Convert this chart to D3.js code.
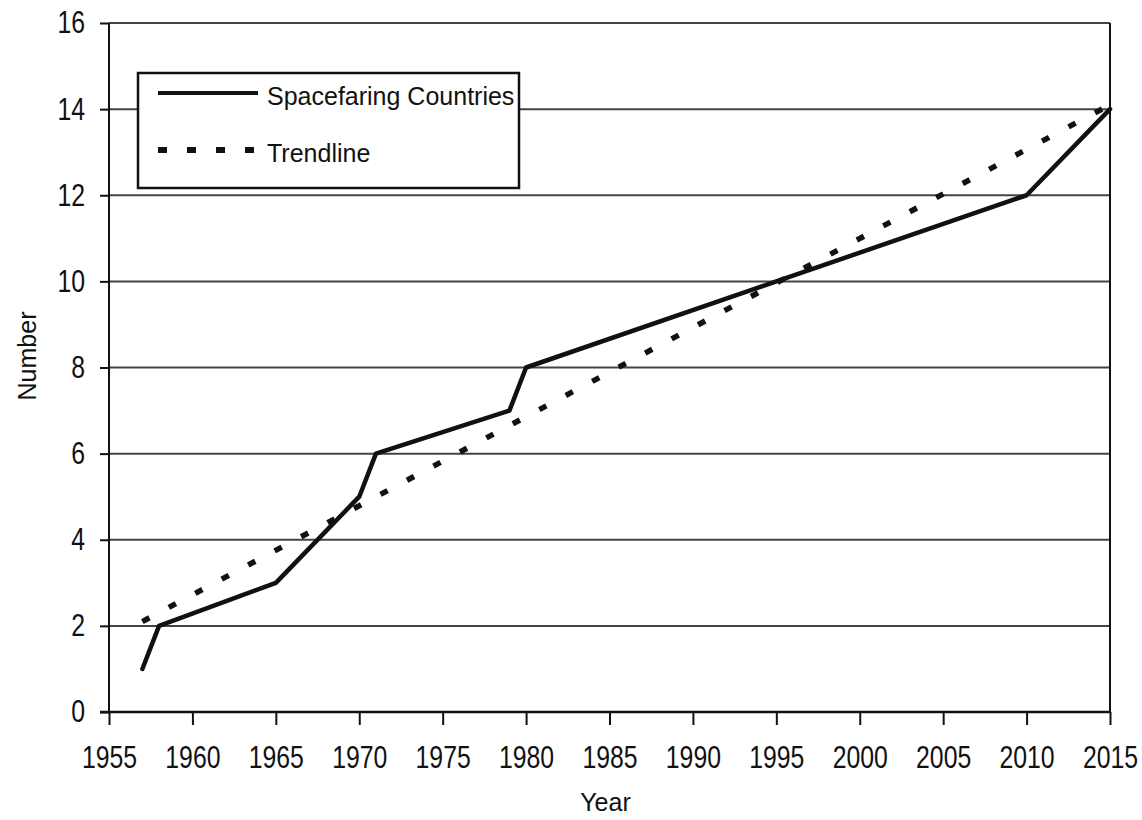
<!DOCTYPE html>
<html lang="en">
<head>
  <meta charset="UTF-8">
  <title>Spacefaring Countries</title>
  <style type="text/css">
       body{
          margin:0;
          background:#fff;
       }
       text{
          font-family: "Liberation Sans", Arial, sans-serif;
          fill:#111;
       }
  </style>
  <script src="https://d3js.org/d3.v7.min.js"></script>
</head>
<body>
   <svg></svg>
   <script>
          const margin = {top:23, left:109, bottom:108, right:32 };
          const width = 1142 - margin.left - margin.right;
          const height = 820 - margin.top - margin.bottom;

          // data
          const years = [1957, 1958, 1965, 1970, 1971, 1979, 1980, 1995, 2010, 2015];
          const countries = [1, 2, 3, 5, 6, 7, 8, 10, 12, 14];
          const trendYears = [1957, 2015];
          const trendValues = [2.1, 14.1];
          const xTicks = [1955, 1960, 1965, 1970, 1975, 1980, 1985, 1990, 1995, 2000, 2005, 2010, 2015];
          const yTicks = [0, 2, 4, 6, 8, 10, 12, 14, 16];
          const legendLabels = ["Spacefaring Countries", "Trendline"];

          const svg = d3.select("svg")
                       .attr("width",width + margin.left + margin.right)
                       .attr("height",height + margin.top + margin.bottom)
                       .append("g")
                       .attr("transform",`translate(${margin.left},${margin.top})`);

          //define Scale
          const xScale = d3.scaleLinear()
                  .domain([1955,2015])
                  .range([0,width]);

          const yScale = d3.scaleLinear()
                  .domain([0,16])
                  .range([height,0]);

          //grid lines
          svg.append("g")
             .selectAll("line")
             .data(yTicks.filter(d => d > 0))
             .enter()
             .append("line")
              .attr("x1",0)
              .attr("x2",width)
              .attr("y1",d => yScale(d))
              .attr("y2",d => yScale(d))
              .attr("stroke","#444")
              .attr("stroke-width",2);

          //right border
          svg.append("line")
             .attr("x1",width).attr("x2",width)
             .attr("y1",0).attr("y2",height)
             .attr("stroke","#111")
             .attr("stroke-width",2);

          const xAxis = d3.axisBottom()
                   .scale(xScale)
                   .tickValues(xTicks)
                   .tickFormat(d3.format("d"))
                   .tickSize(13)
                   .tickPadding(21);

          const yAxis = d3.axisLeft()
                   .scale(yScale)
                   .tickValues(yTicks)
                   .tickFormat(d3.format("d"))
                   .tickSize(9);

          //draw axes
          const xg = svg.append("g")
             .attr("transform",`translate(0,${height})`)
             .call(xAxis);

          const yg = svg.append("g")
             .call(yAxis);

          [xg, yg].forEach(g => {
             g.select(".domain").remove();
             g.selectAll(".tick line").attr("stroke","#111").attr("stroke-width",2);
             g.selectAll(".tick text")
               .attr("font-size",31)
               .attr("font-family","Liberation Sans, Arial, sans-serif")
               .attr("fill","#111")
               .attr("transform","scale(0.8,1)");
          });
          yg.selectAll(".tick text").attr("x",-30);

          svg.append("line")
             .attr("x1",-9).attr("x2",width)
             .attr("y1",height).attr("y2",height)
             .attr("stroke","#111").attr("stroke-width",2.5);
          svg.append("line")
             .attr("x1",0).attr("x2",0)
             .attr("y1",0).attr("y2",height)
             .attr("stroke","#111").attr("stroke-width",2);

          //axis titles
          svg.append("text")
             .attr("x",width/2 - 4)
             .attr("y",height + 99)
             .attr("text-anchor","middle")
             .attr("font-size",25)
             .text("Year");

          svg.append("text")
             .attr("transform",`translate(${-109 + 36},${333}) rotate(-90)`)
             .attr("text-anchor","middle")
             .attr("font-size",25)
             .text("Number");

          //lines
          const line = d3.line()
               .x(d => xScale(d[0]))
               .y(d => yScale(d[1]));

          svg.append("path")
             .datum(d3.zip(trendYears, trendValues))
             .attr("d",line)
             .attr("fill","none")
             .attr("stroke","#111")
             .attr("stroke-width",5.5)
             .attr("stroke-dasharray","8,22");

          svg.append("path")
             .datum(d3.zip(years, countries))
             .attr("d",line)
             .attr("fill","none")
             .attr("stroke","#111")
             .attr("stroke-width",4.5)
             .attr("stroke-linejoin","round")
             .attr("stroke-linecap","round");

          //legend
          const legend = svg.append("g")
               .attr("transform",`translate(${138 - margin.left},${73 - margin.top})`);

          legend.append("rect")
             .attr("width",381)
             .attr("height",115)
             .attr("fill","#fff")
             .attr("stroke","#111")
             .attr("stroke-width",2.5);

          legend.selectAll(".item")
             .data(legendLabels)
             .enter()
             .append("g")
              .attr("class","item")
              .attr("transform",(d,i) => `translate(0,${20 + i*57})`)
              .each(function(d,i){
                 const g = d3.select(this);
                 g.append("line")
                  .attr("x1",20).attr("x2",i ? 128 : 120)
                  .attr("y1",0).attr("y2",0)
                  .attr("stroke","#111")
                  .attr("stroke-width",i ? 6 : 4)
                  .attr("stroke-dasharray",i ? "9,20" : null);
                 g.append("text")
                  .attr("x",129)
                  .attr("y",12)
                  .attr("font-size",25)
                  .text(d);
              });
   </script>
</body>
</html>
